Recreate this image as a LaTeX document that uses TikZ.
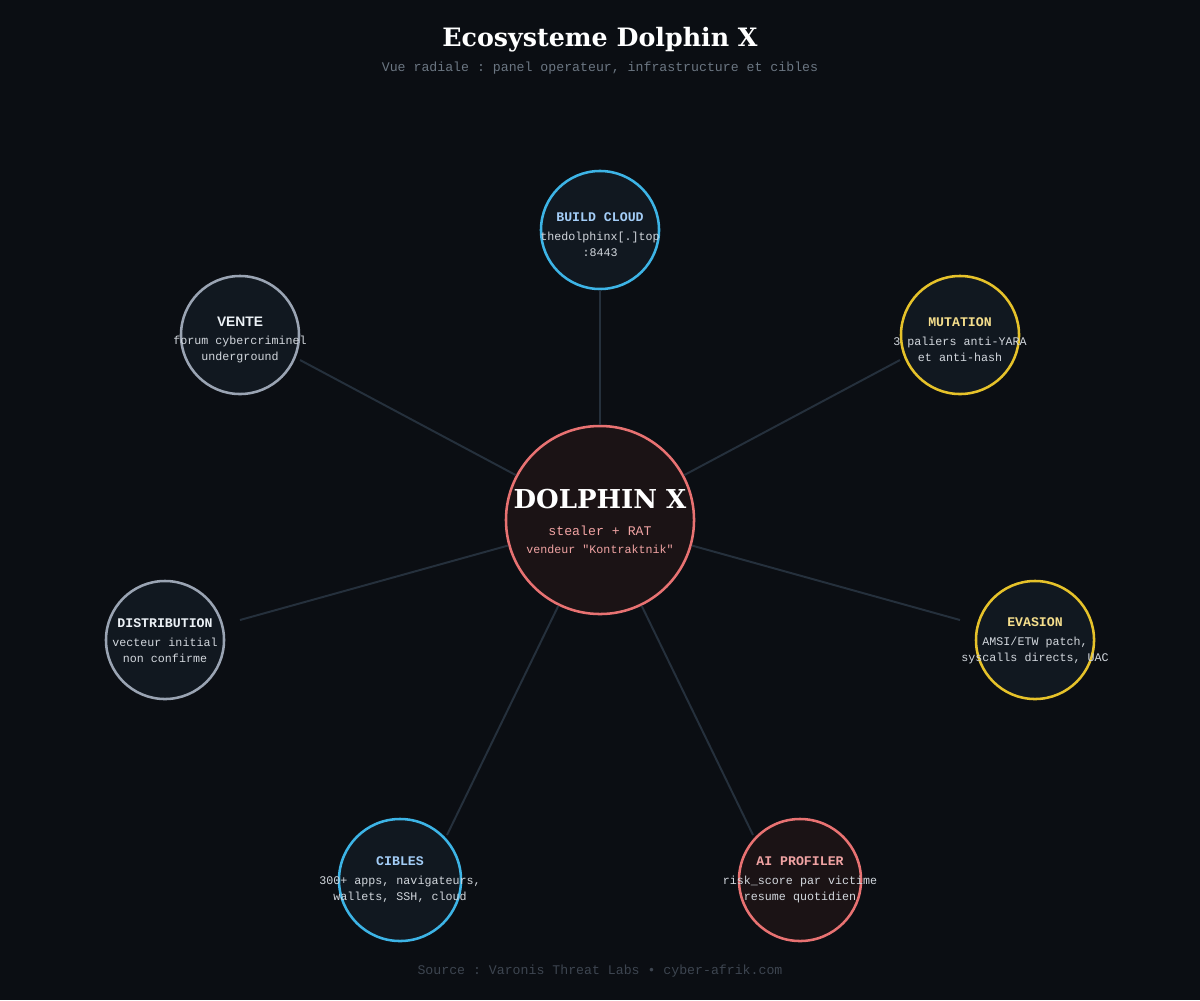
\documentclass[tikz,border=0pt]{standalone}
\usepackage{fontspec}
\setmainfont{DejaVu Serif}
\setmonofont{Liberation Mono}
\newfontfamily\headsans{Liberation Sans}
\usepackage{tikz}

\definecolor{bgdark}{HTML}{0B0E13}
\definecolor{satfill}{HTML}{111820}
\definecolor{corefill}{HTML}{1B1315}
\definecolor{corered}{HTML}{E87272}
\definecolor{corepink}{HTML}{F0A3A3}
\definecolor{skyblue}{HTML}{3DB4E6}
\definecolor{skytext}{HTML}{A3CDF7}
\definecolor{gold}{HTML}{E6C22A}
\definecolor{goldtext}{HTML}{F5DE8C}
\definecolor{slate}{HTML}{9AA4B3}
\definecolor{slatetext}{HTML}{ECF1F6}
\definecolor{subgray}{HTML}{D2D7DD}
\definecolor{linkgray}{HTML}{25303C}
\definecolor{captiongray}{HTML}{6B7682}
\definecolor{footgray}{HTML}{3D4550}

\begin{document}
\begin{tikzpicture}
	[x=0.025cm, y=-0.025cm,
	every node/.style={inner sep=0pt, align=center, text=subgray,
		font=\ttfamily\fontsize{8.3}{11.4}\selectfont},
	sat/.style={circle, draw, line width=1.8pt, fill=satfill, minimum size=2.95cm},
	sattext/.style={yshift=-3.5pt},
	link/.style={draw=linkgray, line width=1.4pt}]
	\useasboundingbox[fill=bgdark] (0,0) rectangle (1200,1000);
	\node (title) at (600,40) {\rmfamily\bfseries\fontsize{18}{20}\selectfont\color{white}Ecosysteme Dolphin X};
	\node (subtitle) at (600,68) {\fontsize{9.4}{11}\selectfont\color{captiongray}Vue radiale : panel operateur, infrastructure et cibles};
	\node (core) [circle, draw=corered, line width=1.8pt, fill=corefill, minimum size=4.7cm] at (600,520) {};
	\node (build) [sat, draw=skyblue] at (600,230) {};
	\node (vente) [sat, draw=slate] at (240,335) {};
	\node (mutation) [sat, draw=gold] at (960,335) {};
	\node (distribution) [sat, draw=slate] at (165,640) {};
	\node (evasion) [sat, draw=gold] at (1035,640) {};
	\node (cibles) [sat, draw=skyblue, minimum size=3.05cm] at (400,880) {};
	\node (profiler) [sat, draw=corered, fill=corefill, minimum size=3.05cm] at (800,880) {};
	\coordinate (build-end) at (600,290);
	\coordinate (vente-end) at (300,360);
	\coordinate (mutation-end) at (900,360);
	\coordinate (distribution-end) at (240,620);
	\coordinate (evasion-end) at (960,620);
	\coordinate (cibles-end) at (447,835);
	\coordinate (profiler-end) at (753,835);
	\draw [link] (core) -- (build-end);
	\draw [link] (core) -- (vente-end);
	\draw [link] (core) -- (mutation-end);
	\draw [link] (core) -- (distribution-end);
	\draw [link] (core) -- (evasion-end);
	\draw [link] (core) -- (cibles-end);
	\draw [link] (core) -- (profiler-end);
	\node (core-txt) [font=\ttfamily\fontsize{8.3}{12.8}\selectfont, yshift=-1pt] at (core)
		{{\rmfamily\bfseries\fontsize{18.5}{20}\selectfont\color{white}DOLPHIN X}\\[7pt]
		{\fontsize{9.4}{11}\selectfont\color{corepink}stealer + RAT}\\
		{\color{corepink}vendeur "Kontraktnik"}};
	\node (build-txt) [sattext] at (build)
		{{\bfseries\fontsize{9.4}{11}\selectfont\color{skytext}BUILD CLOUD}\\[2pt]thedolphinx[.]top\\:8443};
	\node (vente-txt) [sattext] at (vente)
		{{\headsans\bfseries\fontsize{9.8}{11}\selectfont\color{slatetext}VENTE}\\[2pt]forum cybercriminel\\underground};
	\node (mutation-txt) [sattext] at (mutation)
		{{\bfseries\fontsize{9.4}{11}\selectfont\color{goldtext}MUTATION}\\[2pt]3 paliers anti-YARA\\et anti-hash};
	\node (distribution-txt) [sattext, yshift=2.8pt] at (distribution)
		{{\bfseries\fontsize{9.4}{11}\selectfont\color{slatetext}DISTRIBUTION}\\[2pt]vecteur initial\\non confirme};
	\node (evasion-txt) [sattext, yshift=2.8pt] at (evasion)
		{{\bfseries\fontsize{9.4}{11}\selectfont\color{goldtext}EVASION}\\[2pt]AMSI/ETW patch,\\syscalls directs, UAC};
	\node (cibles-txt) [sattext, yshift=3.5pt] at (cibles)
		{{\bfseries\fontsize{9.4}{11}\selectfont\color{skytext}CIBLES}\\[2pt]300+ apps, navigateurs,\\wallets, SSH, cloud};
	\node (profiler-txt) [sattext, yshift=3.5pt] at (profiler)
		{{\bfseries\fontsize{9.4}{11}\selectfont\color{corepink}AI PROFILER}\\[2pt]risk\_score par victime\\resume quotidien};
	\node (source) at (600,971) {\fontsize{9.4}{11}\selectfont\color{footgray}Source : Varonis Threat Labs • cyber-afrik.com};
\end{tikzpicture}
\end{document}
